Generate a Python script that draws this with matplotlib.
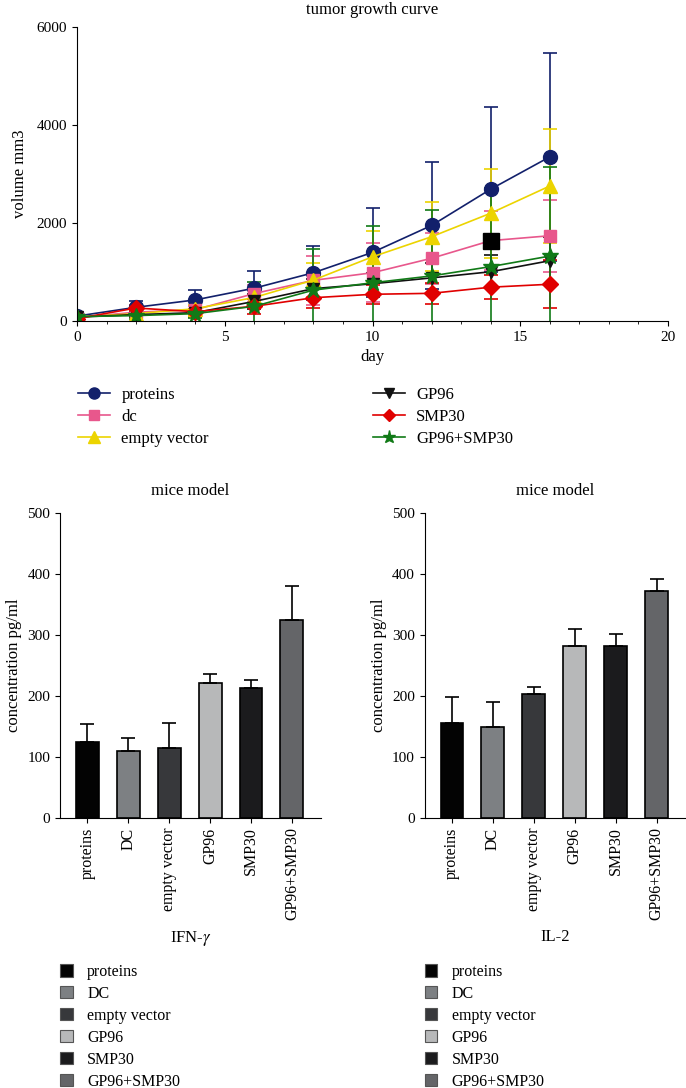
import numpy as np
import matplotlib
matplotlib.use("Agg")
import matplotlib.pyplot as plt
from matplotlib.patches import Patch
from matplotlib.lines import Line2D
from matplotlib.ticker import MultipleLocator

plt.rcParams['font.family'] = ['Liberation Serif', 'DejaVu Serif']
plt.rcParams['font.size'] = 12
plt.rcParams['axes.titlesize'] = 12
plt.rcParams['xtick.labelsize'] = 11
plt.rcParams['ytick.labelsize'] = 11
plt.rcParams['mathtext.fontset'] = 'stix'

# ---- tumor growth curve data ----
days = [0, 2, 4, 6, 8, 10, 12, 14, 16]
proteins = [100, 280, 430, 670, 985, 1400, 1950, 2690, 3350]
proteins_err = [60, 130, 210, 350, 550, 900, 1300, 1680, 2120]
dc = [70, 180, 230, 560, 830, 985, 1280, 1640, 1740]
dc_err = [40, 60, 80, 180, 500, 600, 520, 600, 730]
empty_vec = [80, 150, 250, 480, 835, 1310, 1720, 2200, 2755]
empty_vec_err = [40, 60, 80, 200, 350, 530, 700, 910, 1170]
gp96 = [80, 130, 170, 400, 660, 760, 880, 1005, 1230]
gp96_err = [40, 50, 80, 150, 200, 220, 300, 340, 490]
smp30 = [50, 265, 190, 300, 475, 545, 565, 690, 750]
smp30_err = [30, 60, 60, 150, 200, 195, 215, 240, 490]
combo = [90, 110, 150, 300, 630, 780, 920, 1110, 1325]
combo_err = [40, 60, 80, 500, 830, 1150, 1345, 1600, 1810]
# stray black square on day 14
stray_day = [14]
stray_vol = [1640]

series_names = ['proteins', 'dc', 'empty vector', 'GP96', 'SMP30', 'GP96+SMP30']
series_vals = [proteins, dc, empty_vec, gp96, smp30, combo]
series_errs = [proteins_err, dc_err, empty_vec_err, gp96_err, smp30_err, combo_err]
series_colors = ['#12206b', '#e8578c', '#ecd400', '#111111', '#e00000', '#117a17']
series_markers = ['o', 's', '^', 'v', 'D', '*']
series_ms = [10, 9, 10, 9, 8, 12]

# ---- bar chart data ----
groups = ['proteins', 'DC', 'empty vector', 'GP96', 'SMP30', 'GP96+SMP30']
ifn = [124, 109, 114, 221, 212, 324]
ifn_err = [30, 22, 41, 15, 14, 56]
il2 = [156, 148, 203, 282, 282, 372]
il2_err = [42, 42, 12, 27, 19, 20]
bar_colors = ['#030303', '#7d8083', '#37383b', '#b7b8b9', '#1b1b1d', '#646568']

W, H = 686, 1088
fig = plt.figure(figsize=(W / 100, H / 100), dpi=100)


def frac(x0, y_bottom, w, h):
    return [x0 / W, 1 - y_bottom / H, w / W, h / H]


# ---- line chart ----
ax = fig.add_axes(frac(77, 321, 591, 294))
for name, vals, errs, c, m, ms in zip(series_names, series_vals, series_errs,
                                      series_colors, series_markers, series_ms):
    ax.errorbar(days, vals, yerr=errs, color=c, marker=m, markersize=ms,
                lw=1.2, elinewidth=1.2, capsize=5, capthick=1.2)
ax.plot(stray_day, stray_vol, linestyle='none', marker='s', markersize=11,
        color='black', zorder=5)
ax.set_xlim(0, 20)
ax.set_ylim(0, 6000)
ax.set_xticks([0, 5, 10, 15, 20])
ax.xaxis.set_minor_locator(MultipleLocator(1))
ax.set_yticks([0, 2000, 4000, 6000])
for s in ['top', 'right']:
    ax.spines[s].set_visible(False)
ax.set_title('tumor growth curve', pad=9)
ax.set_xlabel('day', labelpad=4)
ax.set_ylabel('volume mm3', labelpad=6)

line_handles = [Line2D([], [], color=c, marker=m, markersize=ms * 0.8, lw=1.2)
                for c, m, ms in zip(series_colors, series_markers, series_ms)]
leg_kw = dict(loc='upper left', frameon=False, borderpad=0, borderaxespad=0,
              handlelength=1.9, handletextpad=0.7, labelspacing=0.35)
fig.legend(line_handles[:3], series_names[:3], bbox_to_anchor=(78 / W, 1 - 387 / H), **leg_kw)
fig.legend(line_handles[3:], series_names[3:], bbox_to_anchor=(373 / W, 1 - 387 / H), **leg_kw)

# ---- bar charts ----
x = np.arange(len(groups))
for left, vals, errs, xlab in [(60, ifn, ifn_err, 'IFN-$\\gamma$'), (424.7, il2, il2_err, 'IL-2')]:
    bx = fig.add_axes(frac(left, 817.7, 261, 305))
    bx.bar(x, vals, width=0.56, color=bar_colors, edgecolor='black', linewidth=1.2)
    bx.errorbar(x, vals, yerr=[np.zeros(len(vals)), errs], fmt='none', ecolor='black',
                elinewidth=1.2, capsize=5, capthick=1.2)
    bx.set_xlim(-0.667, 5.71)
    bx.set_ylim(0, 500)
    bx.set_yticks([0, 100, 200, 300, 400, 500])
    bx.set_xticks(x)
    bx.set_xticklabels(groups, rotation=90, fontsize=11.5)
    for s in ['top', 'right']:
        bx.spines[s].set_visible(False)
    bx.set_title('mice model', pad=13)
    bx.set_ylabel('concentration pg/ml', labelpad=4)
    bx.set_xlabel(xlab, labelpad=6)

    bar_handles = [Patch(facecolor=c, edgecolor='#555555', linewidth=0.8) for c in bar_colors]
    fig.legend(bar_handles, groups, loc='upper left', frameon=False, borderpad=0,
               borderaxespad=0, handlelength=0.8, handleheight=0.8, handletextpad=0.9,
               labelspacing=0.37, fontsize=11.5,
               bbox_to_anchor=(left / W, 1 - 964 / H))

fig.savefig('out.png', dpi=100)
